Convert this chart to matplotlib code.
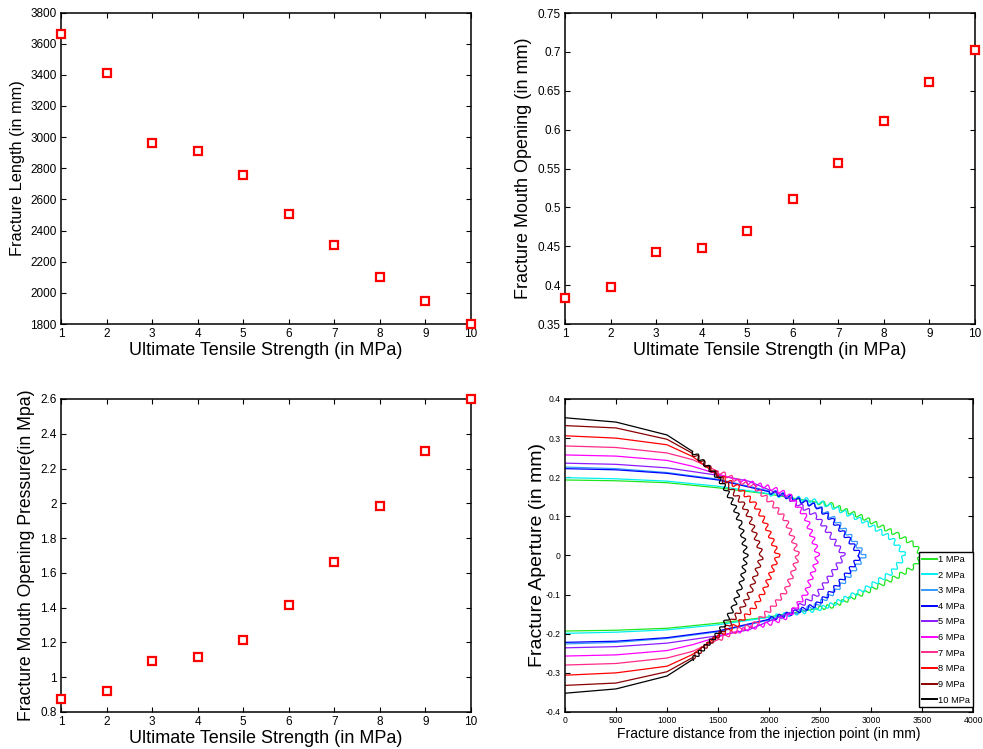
import matplotlib.pyplot as plt
from matplotlib import font_manager
from matplotlib.ticker import FuncFormatter

plt.rcParams["font.family"] = ["Liberation Sans", "DejaVu Sans"]

# condensed face for the profile panel if one is installed, else shrink the regular one
_installed = {f.name for f in font_manager.fontManager.ttflist}
if "Liberation Sans Narrow" in _installed:
    NARROW, SHRINK = ["Liberation Sans Narrow", "DejaVu Sans"], 1.0
else:
    NARROW, SHRINK = ["Liberation Sans", "DejaVu Sans"], 0.85

# ultimate tensile strength (MPa)
uts = [1, 2, 3, 4, 5, 6, 7, 8, 9, 10]
uts_ticks = [1, 2, 3, 4, 5, 6, 7, 8, 9, 10]

fracture_length = [3665, 3413, 2960, 2910, 2757, 2505, 2305, 2102, 1948, 1800]
length_ticks = [1800, 2000, 2200, 2400, 2600, 2800, 3000, 3200, 3400, 3600, 3800]

mouth_opening = [0.384, 0.397, 0.442, 0.448, 0.469, 0.511, 0.557, 0.611, 0.661, 0.703]
opening_ticks = [0.35, 0.4, 0.45, 0.5, 0.55, 0.6, 0.65, 0.7, 0.75]

mouth_pressure = [0.877, 0.92, 1.095, 1.114, 1.212, 1.415, 1.663, 1.984, 2.302, 2.6]
pressure_ticks = [0.8, 1.0, 1.2, 1.4, 1.6, 1.8, 2.0, 2.2, 2.4, 2.6]

# aperture profiles, upper half (distance mm, aperture mm)
x_1mpa = [0, 500, 1000, 1500, 2000, 2470, 2620, 2940, 3270, 3430, 3495]
y_1mpa = [0.193, 0.191, 0.186, 0.173, 0.157, 0.136, 0.129, 0.095, 0.052, 0.027, 0.0]
x_2mpa = [0, 500, 1000, 1500, 2000, 2470, 2620, 2940, 3200, 3300, 3330]
y_2mpa = [0.199, 0.196, 0.190, 0.177, 0.158, 0.138, 0.125, 0.086, 0.044, 0.012, 0.0]
x_3mpa = [0, 500, 1000, 1500, 2000, 2250, 2470, 2650, 2820, 2937]
y_3mpa = [0.226, 0.222, 0.212, 0.195, 0.165, 0.147, 0.127, 0.091, 0.042, 0.0]
x_4mpa = [0, 500, 1000, 1500, 2000, 2250, 2470, 2620, 2780, 2894]
y_4mpa = [0.222, 0.219, 0.210, 0.193, 0.163, 0.145, 0.125, 0.091, 0.042, 0.0]
x_5mpa = [0, 500, 1000, 1500, 1800, 2200, 2470, 2620, 2735]
y_5mpa = [0.236, 0.233, 0.224, 0.205, 0.190, 0.146, 0.100, 0.045, 0.0]
x_6mpa = [0, 500, 1000, 1250, 1500, 1700, 2030, 2195, 2360, 2455, 2478]
y_6mpa = [0.257, 0.254, 0.243, 0.228, 0.208, 0.193, 0.172, 0.155, 0.099, 0.023, 0.0]
x_7mpa = [0, 500, 1000, 1250, 1500, 1700, 1854, 2032, 2163, 2228, 2283]
y_7mpa = [0.280, 0.276, 0.262, 0.245, 0.215, 0.190, 0.176, 0.133, 0.091, 0.048, 0.0]
x_8mpa = [0, 500, 1000, 1250, 1500, 1691, 1854, 1951, 2016, 2088]
y_8mpa = [0.306, 0.300, 0.283, 0.253, 0.205, 0.176, 0.133, 0.091, 0.048, 0.0]
x_9mpa = [0, 500, 1000, 1250, 1500, 1610, 1740, 1820, 1870, 1930]
y_9mpa = [0.332, 0.326, 0.297, 0.261, 0.205, 0.176, 0.133, 0.091, 0.048, 0.0]
x_10mpa = [0, 500, 1000, 1250, 1500, 1561, 1650, 1720, 1745, 1775]
y_10mpa = [0.352, 0.341, 0.308, 0.266, 0.200, 0.176, 0.133, 0.080, 0.048, 0.0]

profile_labels = ["1 MPa", "2 MPa", "3 MPa", "4 MPa", "5 MPa",
                  "6 MPa", "7 MPa", "8 MPa", "9 MPa", "10 MPa"]
profile_colors = ["#1ee61e", "#00f0f0", "#3399ff", "#0000ff", "#8c1aff",
                  "#ff00ff", "#ff2a8a", "#ff0000", "#8b0000", "#000000"]
profile_x = [x_1mpa, x_2mpa, x_3mpa, x_4mpa, x_5mpa,
             x_6mpa, x_7mpa, x_8mpa, x_9mpa, x_10mpa]
profile_y = [y_1mpa, y_2mpa, y_3mpa, y_4mpa, y_5mpa,
             y_6mpa, y_7mpa, y_8mpa, y_9mpa, y_10mpa]
dist_ticks = [0, 500, 1000, 1500, 2000, 2500, 3000, 3500, 4000]
aperture_ticks = [-0.4, -0.3, -0.2, -0.1, 0, 0.1, 0.2, 0.3, 0.4]

short_fmt = FuncFormatter(lambda v, pos: "%g" % round(v, 6))


def style_axes(ax, labelsize=8.5, family=None):
    ax.tick_params(direction="in", top=True, right=True, length=3.5,
                   width=0.8, labelsize=labelsize, pad=3)
    for spine in ax.spines.values():
        spine.set_linewidth(1.1)
    if family:
        for lab in ax.get_xticklabels() + ax.get_yticklabels():
            lab.set_family(family)


def scatter_panel(ax, values, yticks, ylabel, ysize):
    ax.plot(uts, values, ls="none", marker="s", ms=5.5, mfc="white",
            mec="red", mew=1.6, clip_on=False, zorder=3)
    ax.set_xlim(1, 10)
    ax.set_ylim(yticks[0], yticks[-1])
    ax.set_xticks(uts_ticks)
    ax.set_yticks(yticks)
    ax.yaxis.set_major_formatter(short_fmt)
    style_axes(ax)
    ax.set_xlabel("Ultimate Tensile Strength (in MPa)", fontsize=13, labelpad=1)
    ax.set_ylabel(ylabel, fontsize=ysize, labelpad=4)


fig = plt.figure(figsize=(9.83, 7.49), dpi=100)
ax_len = fig.add_axes([0.0621, 0.5674, 0.4171, 0.4159])
ax_cmod = fig.add_axes([0.5748, 0.5674, 0.4171, 0.4152])
ax_press = fig.add_axes([0.0621, 0.0494, 0.4171, 0.4179])
ax_prof = fig.add_axes([0.5748, 0.0494, 0.4151, 0.4179])

scatter_panel(ax_len, fracture_length, length_ticks, "Fracture Length (in mm)", 11.8)
scatter_panel(ax_cmod, mouth_opening, opening_ticks,
              "Fracture Mouth Opening (in mm)", 13)
scatter_panel(ax_press, mouth_pressure, pressure_ticks,
              "Fracture Mouth Opening Pressure(in Mpa)", 12.7)

# crack opening profiles: smooth near the mouth, jagged towards the tip
for xs, ys, color, label in zip(profile_x, profile_y, profile_colors, profile_labels):
    k = next(i for i, v in enumerate(ys) if v < 0.8 * ys[0])
    ax_prof.plot(xs[:k + 1], ys[:k + 1], color=color, lw=0.9, label=label)
    ax_prof.plot(xs[:k + 1], [-v for v in ys[:k + 1]], color=color, lw=0.9)
    tip_x = xs[k:] + xs[k:][::-1][1:]
    tip_y = ys[k:] + [-v for v in ys[k:][::-1][1:]]
    rough, = ax_prof.plot(tip_x, tip_y, color=color, lw=0.9)
    rough.set_sketch_params(scale=2.2, length=8, randomness=1.1)

ax_prof.set_xlim(dist_ticks[0], dist_ticks[-1])
ax_prof.set_ylim(aperture_ticks[0], aperture_ticks[-1])
ax_prof.set_xticks(dist_ticks)
ax_prof.set_yticks(aperture_ticks)
ax_prof.xaxis.set_major_formatter(short_fmt)
ax_prof.yaxis.set_major_formatter(short_fmt)
style_axes(ax_prof, labelsize=7.3 * SHRINK, family=NARROW)
ax_prof.set_xlabel("Fracture distance from the injection point (in mm)",
                   fontsize=11.8 * SHRINK, family=NARROW, labelpad=1)
ax_prof.set_ylabel("Fracture Aperture (in mm)", fontsize=14, labelpad=0)

leg = ax_prof.legend(loc="lower right", bbox_to_anchor=(1.0, 0.015),
                     prop={"family": NARROW, "size": 7.8 * SHRINK}, fancybox=False,
                     edgecolor="black", framealpha=1, borderpad=0.3,
                     labelspacing=0.72, handlelength=1.6, handletextpad=0.15,
                     borderaxespad=0)
leg.get_frame().set_linewidth(1.0)
for line in leg.get_lines():
    line.set_linewidth(1.4)

fig.savefig("out.png", dpi=100)
